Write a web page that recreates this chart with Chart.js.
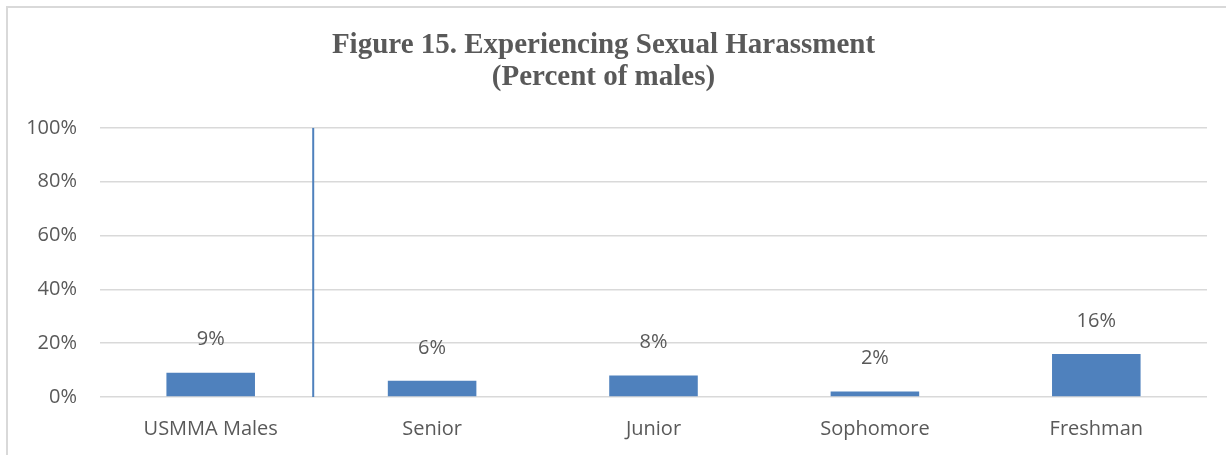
<!DOCTYPE html>
<html>
<head>
<meta charset="utf-8">
<script src="https://cdn.jsdelivr.net/npm/chart.js@4/dist/chart.umd.min.js"></script>
<style>
  html, body { margin: 0; padding: 0; background: #fff; overflow: hidden; }
  #wrap { position: absolute; left: 0; top: 0; width: 1226px; height: 455px; }
  #frame { position: absolute; left: 6px; top: 6px; width: 1300px; height: 500px; border-left: 2px solid #d9d9d9; border-top: 2px solid #d9d9d9; box-sizing: border-box; pointer-events: none; }
</style>
</head>
<body>
<div id="wrap"><canvas id="c" width="1226" height="455"></canvas></div>
<div id="frame"></div>
<script>
const titleLines = ["Figure 15. Experiencing Sexual Harassment", "(Percent of males)"];
const categories = ["USMMA Males", "Senior", "Junior", "Sophomore", "Freshman"];
const values = [9, 6, 8, 2, 16];
const valueLabels = ["9%", "6%", "8%", "2%", "16%"];
const yTicks = [0, 20, 40, 60, 80, 100];
// separator line between the overall group and the class years (category-index position)
const separatorX = [0.463, 0.463];
const separatorY = [0, 100];

const BAR = '#4F81BD';
const TEXT = '#595959';
const GRID = '#d9d9d9';
const SANS = '"Open Sans", "Noto Sans", sans-serif';

const labelPlugin = {
  id: 'valueLabels',
  afterDatasetsDraw(chart) {
    const ctx = chart.ctx;
    const meta = chart.getDatasetMeta(0);
    ctx.save();
    ctx.font = '20px ' + SANS;
    ctx.fillStyle = TEXT;
    ctx.textAlign = 'center';
    ctx.textBaseline = 'middle';
    meta.data.forEach((bar, i) => {
      ctx.fillText(valueLabels[i], bar.x, bar.y - 33);
    });
    ctx.restore();
  }
};

new Chart(document.getElementById('c'), {
  type: 'bar',
  data: {
    labels: categories,
    datasets: [
      {
        type: 'bar',
        data: values,
        backgroundColor: BAR,
        borderWidth: 0,
        grouped: false,
        barPercentage: 0.4,
        categoryPercentage: 1.0,
        xAxisID: 'x',
        yAxisID: 'y',
        order: 2
      },
      {
        type: 'line',
        data: separatorX.map((x, i) => ({ x: x, y: separatorY[i] })),
        borderColor: BAR,
        borderWidth: 2,
        pointRadius: 0,
        fill: false,
        xAxisID: 'x2',
        yAxisID: 'y',
        order: 1
      }
    ]
  },
  options: {
    responsive: false,
    animation: false,
    devicePixelRatio: 1,
    layout: { padding: { left: 0, right: 19, top: 0, bottom: 0 } },
    plugins: {
      legend: { display: false },
      tooltip: { enabled: false },
      title: {
        display: true,
        text: titleLines,
        color: TEXT,
        font: { family: '"Liberation Serif", "DejaVu Serif", serif', size: 29, weight: 'bold', lineHeight: 1.1 },
        padding: { top: 30, bottom: 34 }
      }
    },
    scales: {
      x: {
        type: 'category',
        offset: true,
        grid: { display: false, drawTicks: false },
        border: { display: false },
        ticks: {
          color: TEXT,
          padding: 20,
          font: { family: SANS, size: 20 }
        },
        afterFit(scale) { scale.height = 58; }
      },
      x2: {
        type: 'linear',
        display: false,
        offset: false,
        grid: { offset: false },
        min: -0.5,
        max: categories.length - 0.5
      },
      y: {
        type: 'linear',
        min: 0,
        max: 100,
        afterBuildTicks(scale) { scale.ticks = yTicks.map(v => ({ value: v })); },
        grid: { color: GRID, lineWidth: 1.5, drawTicks: false },
        border: { display: false },
        ticks: {
          color: TEXT,
          padding: 23,
          font: { family: SANS, size: 20 },
          callback: v => v + '%'
        },
        afterFit(scale) { scale.width = 100; }
      }
    }
  },
  plugins: [labelPlugin]
});
</script>
</body>
</html>
